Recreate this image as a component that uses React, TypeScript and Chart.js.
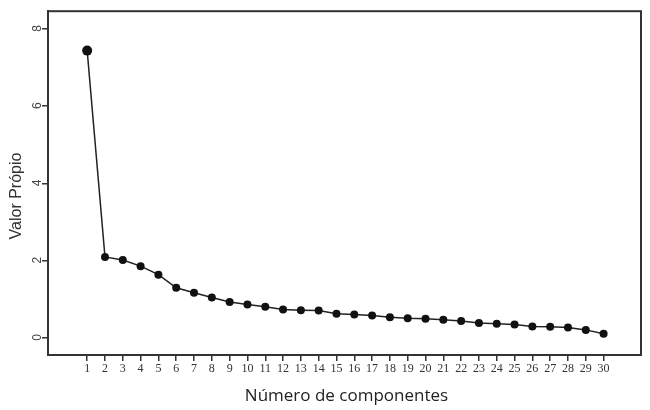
import React, { useEffect, useRef } from "react";
import { Chart, registerables } from "chart.js";

Chart.register(...registerables);

const components = [1,2,3,4,5,6,7,8,9,10,11,12,13,14,15,16,17,18,19,20,21,22,23,24,25,26,27,28,29,30];
const eigenvalues = [7.44,2.10,2.02,1.86,1.64,1.30,1.17,1.05,0.93,0.87,0.81,0.74,0.72,0.71,0.63,0.61,0.58,0.54,0.51,0.50,0.47,0.44,0.39,0.37,0.35,0.30,0.29,0.27,0.21,0.11];
const yTicks = [0,2,4,6,8];
const xTitle = "Número de componentes";
const yTitle = "Valor Própio";

const frame = {
  id: "frame",
  afterDraw(chart: any) {
    const { ctx, chartArea: a } = chart;
    ctx.save();
    ctx.strokeStyle = "#333";
    ctx.lineWidth = 2;
    ctx.strokeRect(a.left, a.top, a.right - a.left, a.bottom - a.top);
    // axis titles
    ctx.fillStyle = "#222";
    ctx.textAlign = "center";
    ctx.textBaseline = "middle";
    ctx.font = "17px 'Open Sans'";
    ctx.fillText(xTitle, (a.left + a.right) / 2 + 2, 396);
    ctx.save();
    ctx.translate(17, 196);
    ctx.rotate(-Math.PI / 2);
    ctx.font = "16px 'Liberation Sans'";
    ctx.fillStyle = "#333";
    ctx.fillText(yTitle, 0, 0);
    ctx.restore();
    ctx.restore();
  },
};

export default function App() {
  const ref = useRef<HTMLCanvasElement>(null);
  useEffect(() => {
    const chart = new Chart(ref.current!, {
      type: "line",
      data: {
        datasets: [
          {
            data: components.map((c, i) => ({ x: c, y: eigenvalues[i] })),
            borderColor: "#222",
            backgroundColor: "#111",
            borderWidth: 1.5,
            pointRadius: components.map((c) => (c === 1 ? 5 : 4)),
            pointBorderWidth: 0,
            tension: 0,
          },
        ],
      },
      plugins: [frame],
      options: {
        animation: false,
        responsive: false,
        maintainAspectRatio: false,
        layout: { padding: { top: 8, right: 9, left: 0, bottom: 0 } },
        plugins: { legend: { display: false }, tooltip: { enabled: false } },
        scales: {
          x: {
            type: "linear",
            min: -1.2,
            max: 32.1,
            afterBuildTicks(scale: any) {
              scale.ticks = components.map((v) => ({ value: v }));
            },
            afterFit(scale: any) {
              scale.height = 55;
            },
            grid: { drawOnChartArea: false, drawTicks: true, tickLength: 6, color: "#333", lineWidth: 1.5 },
            border: { display: true, color: "#333", width: 2 },
            ticks: {
              autoSkip: false,
              maxRotation: 0,
              minRotation: 0,
              padding: 1,
              color: "#333",
              font: { family: "Liberation Serif", size: 12 },
              callback: (v: any) => String(v),
            },
          },
          y: {
            type: "linear",
            min: -0.44,
            max: 8.46,
            afterBuildTicks(scale: any) {
              scale.ticks = yTicks.map((v) => ({ value: v }));
            },
            afterFit(scale: any) {
              scale.width = 48;
            },
            grid: { drawOnChartArea: false, drawTicks: true, tickLength: 6, color: "#333", lineWidth: 1.5 },
            border: { display: true, color: "#333", width: 2 },
            ticks: {
              minRotation: 90,
              maxRotation: 90,
              padding: 4,
              labelOffset: -4,
              color: "#444",
              font: { family: "Liberation Sans", size: 12 },
              callback: (v: any) => String(v),
            },
          },
        },
      },
    });
    return () => chart.destroy();
  }, []);
  return (
    <div style={{ position: "fixed", left: 0, top: 0, width: 650, height: 410, background: "#fff" }}>
      <canvas ref={ref} width={650} height={410} />
    </div>
  );
}
